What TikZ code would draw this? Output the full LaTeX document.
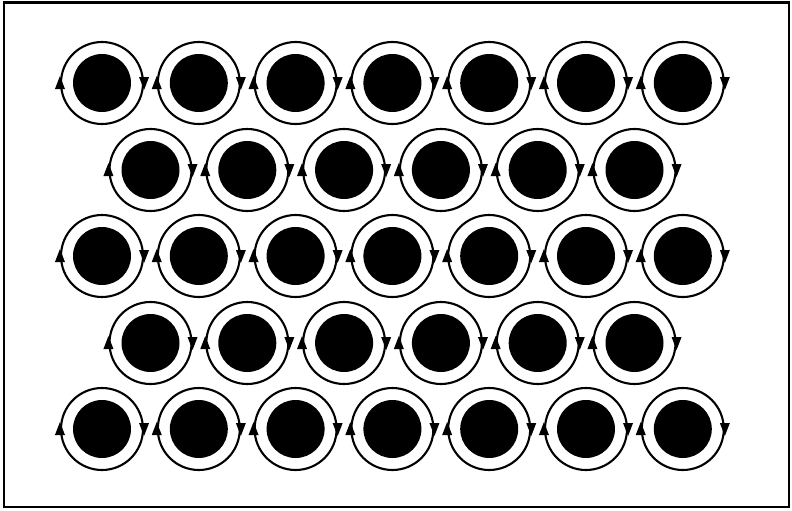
\documentclass[tikz,border=0pt]{standalone}
\begin{document}
\begin{tikzpicture}[x=1pt,y=-1pt,
  ring/.style={circle,draw=black,line width=2.1pt,minimum size=82pt,inner sep=0pt},
  disk/.style={circle,fill=black,minimum size=58pt,inner sep=0pt},
  frame/.style={draw=black,line width=2.8pt},
  tip/.style={fill=black,draw=none}]
\useasboundingbox (0,0) rectangle (792,511);
\draw[frame] (4,2.5) rectangle (789,507);
\foreach \r/\y/\n/\x in {1/83/7/102,2/170/6/150.5,3/256/7/102,4/343/6/150.5,5/429/7/102}{
  \foreach \c in {1,...,\n}{
    \pgfmathsetmacro{\cx}{\x+96.8*(\c-1)}
    \node[ring] (r\r-\c) at (\cx,\y) {};
    \node[disk] (d\r-\c) at (\cx,\y) {};
    \path[tip] ([yshift=7pt]r\r-\c.west) -- ++(-5,13) -- ++(10,0) -- cycle;
    \path[tip] ([yshift=-7pt]r\r-\c.east) -- ++(-5,-13) -- ++(10,0) -- cycle;
  }
}
\end{tikzpicture}
\end{document}
